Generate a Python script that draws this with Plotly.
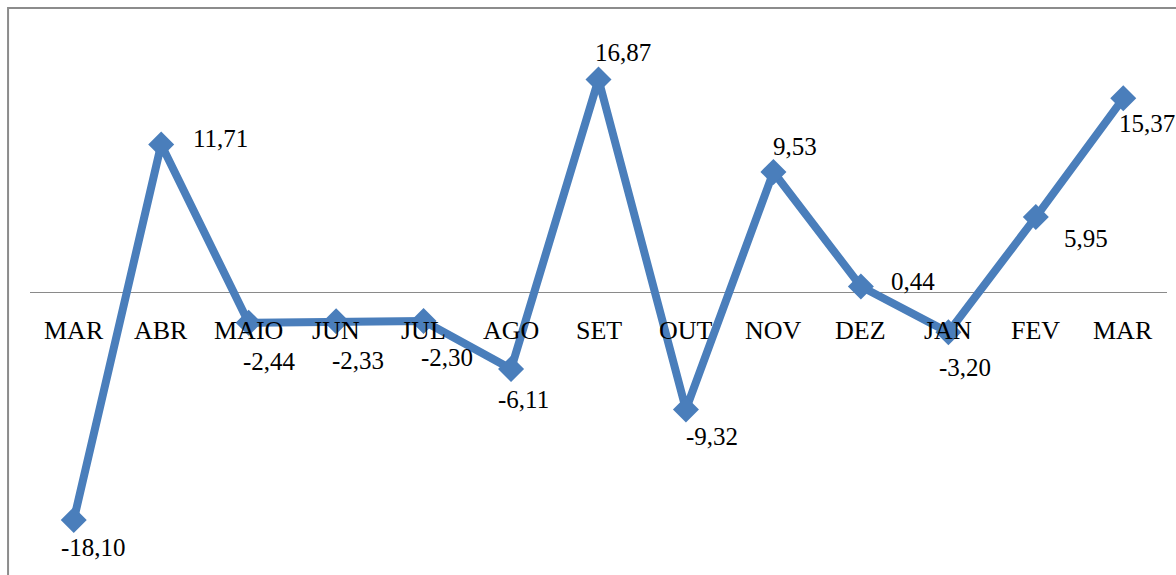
import plotly.graph_objects as go

# Monthly variation (%), March to March
months = ["MAR", "ABR", "MAIO", "JUN", "JUL", "AGO", "SET", "OUT", "NOV", "DEZ", "JAN", "FEV", "MAR"]
values = [-18.10, 11.71, -2.44, -2.33, -2.30, -6.11, 16.87, -9.32, 9.53, 0.44, -3.20, 5.95, 15.37]

# label offsets in pixels (dx, dy) relative to each marker
label_dx = [20, 59, 21, 22, 23, 12, 24, 26, 22, 52, 17, 50, 24]
label_dy = [-27, 6, -39, -39, -37, -30, 27, -27, 25, 5, -35, -21, -25]

BLUE = "#4a7ebb"
FONT = "Liberation Serif"

xs = list(range(len(months)))

fig = go.Figure()
fig.add_trace(go.Scatter(
    x=xs, y=values, mode="lines+markers",
    line=dict(color=BLUE, width=8),
    marker=dict(symbol="diamond", size=20, color=BLUE),
    hoverinfo="skip", showlegend=False,
))

# category labels sit just under the zero line
for i, m in enumerate(months):
    fig.add_annotation(x=i, y=0, text=m, showarrow=False, yshift=-38,
                       font=dict(family=FONT, size=26, color="#000"))

# value labels, decimal comma
for i, v in enumerate(values):
    txt = f"{v:.2f}".replace(".", ",")
    fig.add_annotation(x=i, y=v, text=txt, showarrow=False,
                       xshift=label_dx[i], yshift=label_dy[i],
                       font=dict(family=FONT, size=25, color="#000"))

# chart area frame
fig.add_shape(type="rect", xref="paper", yref="paper",
              x0=-0.0193, x1=1.05, y0=-0.1, y1=1.0222,
              line=dict(color="#8c8c8c", width=2), layer="below")

fig.update_layout(
    width=1176, height=575,
    margin=dict(l=30, r=9, t=20, b=15),
    paper_bgcolor="white", plot_bgcolor="white",
    font=dict(family=FONT),
    xaxis=dict(range=[-0.5, 12.5], visible=False, showgrid=False),
    yaxis=dict(range=[-21.27, 21.59], showgrid=False, showticklabels=False,
               zeroline=True, zerolinecolor="#8a8a8a", zerolinewidth=1,
               showline=False, ticks=""),
)

fig.write_html("out.html")
